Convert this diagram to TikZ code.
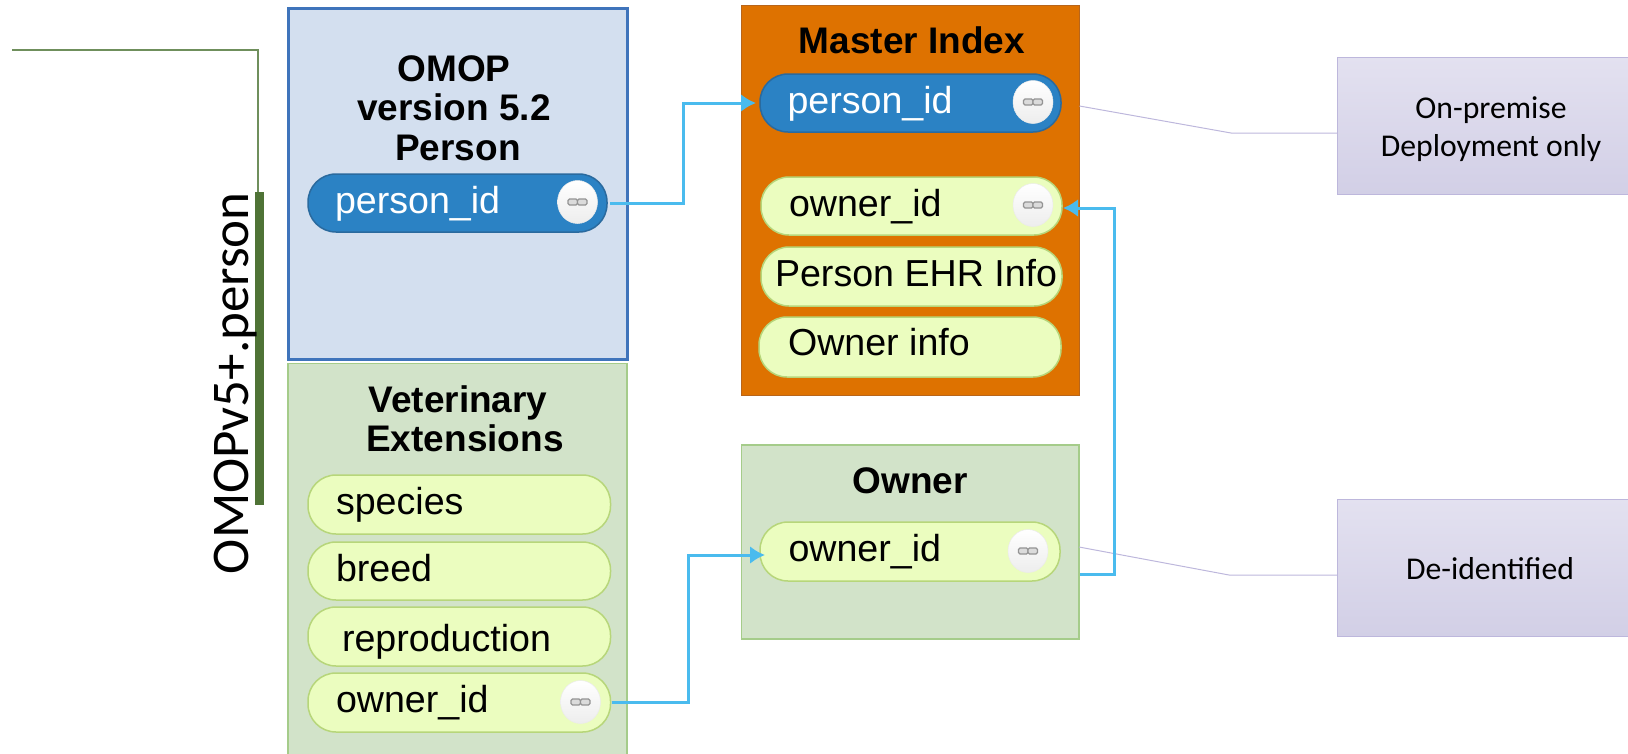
\documentclass[tikz,border=0pt]{standalone}
\usepackage{fontspec}
\setmainfont{Liberation Sans}
\newfontfamily\calfont{Carlito}
\usetikzlibrary{shapes.geometric,arrows.meta}
\definecolor{pillblue}{HTML}{2B82C4}
\definecolor{pillblueedge}{HTML}{2A6A9E}
\definecolor{pillgreen}{HTML}{EBFDBF}
\definecolor{pillgreenedge}{HTML}{B7D67A}
\definecolor{boxblue}{HTML}{D3DFEF}
\definecolor{boxblueedge}{HTML}{3F74BB}
\definecolor{boxgreen}{HTML}{D2E3C9}
\definecolor{boxgreenedge}{HTML}{A5CC8A}
\definecolor{boxorange}{HTML}{DE7200}
\definecolor{boxorangeedge}{HTML}{B8651A}
\definecolor{connblue}{HTML}{4ABBEE}
\definecolor{purpleedge}{HTML}{BDB7DC}
\definecolor{leafthin}{HTML}{6F8F5C}
\definecolor{leafthick}{HTML}{4F7336}
\definecolor{HTMLtop}{HTML}{E3E1F0}
\definecolor{HTMLbot}{HTML}{D2CFE6}
\tikzset{
  area/.style={rectangle,draw,outer sep=0pt,inner sep=0pt},
  bluearea/.style={area,fill=boxblue,draw=boxblueedge,line width=3pt},
  greenarea/.style={area,fill=boxgreen,draw=boxgreenedge,line width=1.5pt},
  orangearea/.style={area,fill=boxorange,draw=boxorangeedge,line width=1pt},
  notebox/.style={area,draw=purpleedge,line width=1pt,top color=HTMLtop,bottom color=HTMLbot},
  bluepill/.style={area,fill=pillblue,draw=pillblueedge,line width=1.5pt,rounded corners=28pt},
  greenpill/.style={area,fill=pillgreen,draw=pillgreenedge,line width=1.5pt,rounded corners=28pt},
  linkbtn/.style={ellipse,draw=black!8,line width=.5pt,top color=white,bottom color=black!7,minimum width=40pt,minimum height=43pt,inner sep=0pt,outer sep=0pt},
  linkglyph/.style={draw=black!42,fill=black!14,line width=1.2pt,rounded corners=1.5pt},
  title/.style={inner sep=0pt,outer sep=0pt,anchor=base,font=\fontsize{37}{40}\selectfont\bfseries},
  field/.style={inner sep=0pt,outer sep=0pt,anchor=base west,font=\fontsize{37.6}{40}\selectfont},
  note/.style={inner sep=0pt,outer sep=0pt,anchor=base,font=\calfont\fontsize{31.7}{34}\selectfont},
  conn/.style={draw=connblue,line width=3pt,-{Latex[length=15pt,width=18pt]}},
  lead/.style={draw=purpleedge,line width=1pt},
}
% name, x1, y1, x2, y2, style
\newcommand\placebox[6]{\node[#6,minimum width={(#4-#2)*1pt},minimum height={(#5-#3)*1pt}] (#1) at ({(#2+#4)/2},{(#3+#5)/2}) {};}
% name, cx, cy
\newcommand\linkbutton[3]{\node[linkbtn] (#1) at (#2,#3) {};
  \draw[linkglyph] ({#2-9.5},{#3-3}) rectangle ({#2},{#3+3});
  \draw[linkglyph] ({#2},{#3-3}) rectangle ({#2+9.5},{#3+3});}
\begin{document}
\begin{tikzpicture}[x=1pt,y=-1pt]
\useasboundingbox (0,0) rectangle (1628,753);
\clip (0,0) rectangle (1628,753);

% left bracket
\coordinate (legstart) at (12,50);
\coordinate (legcorner) at (258,50);
\node[area,fill=leafthick,draw=none,minimum width=9pt,minimum height=313pt] (legbar) at (259.5,348.5) {};
\draw[leafthin,line width=2pt] (legstart) -- (legcorner) -- (legcorner |- legbar.north);
\node[inner sep=0pt,outer sep=0pt,rotate=90,anchor=base west,font=\calfont\fontsize{53}{56}\selectfont] (legtext) at (248,574) {OMOPv5+.person};

% areas
\placebox{omopbox}{288}{8}{627}{359.5}{bluearea}
\placebox{vetbox}{288}{363.5}{627}{770}{greenarea}
\placebox{masterbox}{741.5}{5.5}{1079.5}{395.5}{orangearea}
\placebox{ownerbox}{741.5}{445}{1079}{639}{greenarea}
\placebox{premisebox}{1337}{57}{1640}{194}{notebox}
\placebox{deidbox}{1337}{499}{1640}{636}{notebox}

% titles
\node[title] (t1) at (454,81.7) {OMOP};
\node[title] (t2) at (454,120.7) {version 5.2};
\node[title] (t3) at (458,160) {Person};
\node[title] (t4) at (458,412) {Veterinary};
\node[title] (t5) at (465,451) {Extensions};
\node[title] (t6) at (912,53) {Master Index};
\node[title] (t7) at (910,493) {Owner};

% pills
\placebox{omoppid}{308}{174}{607}{232}{bluepill}
\placebox{species}{308}{475}{610.5}{534}{greenpill}
\placebox{breed}{308}{542}{610.5}{600}{greenpill}
\placebox{repro}{308}{607}{610.5}{666}{greenpill}
\placebox{vetowner}{308}{673}{610.5}{732}{greenpill}
\placebox{masterpid}{760}{74}{1061}{132}{bluepill}
\placebox{masterowner}{761}{177}{1062}{235}{greenpill}
\placebox{ehr}{761}{247}{1062}{306}{greenpill}
\placebox{ownerinfo}{759}{317}{1061}{377}{greenpill}
\placebox{ownerid}{760}{522}{1060}{581}{greenpill}

% field labels
\node[field,text=white] (l1) at (335,213) {person\_id};
\node[field] (l2) at (336,514.5) {species};
\node[field] (l3) at (336,581) {breed};
\node[field] (l4) at (342,651) {reproduction};
\node[field] (l5) at (336,712.5) {owner\_id};
\node[field,text=white] (l6) at (787.5,113) {person\_id};
\node[field] (l7) at (789,216) {owner\_id};
\node[field] (l8) at (775,286.5) {Person EHR Info};
\node[field] (l9) at (788,355.5) {Owner info};
\node[field] (l10) at (788.5,561.5) {owner\_id};

% link buttons
\linkbutton{b1}{577.5}{202}
\linkbutton{b2}{580.5}{702}
\linkbutton{b3}{1033}{102}
\linkbutton{b4}{1033}{205}
\linkbutton{b5}{1028}{551}

% notes
\node[note] (n1) at (1491,118.5) {On-premise};
\node[note] (n2) at (1491,156.5) {Deployment only};
\node[note] (n3) at (1490,579) {De-identified};

% leader lines
\draw[lead] ([yshift=94.5pt]masterbox.east) -- (1231,133) -- ([yshift=-7.5pt]premisebox.west);
\draw[lead] ([yshift=-5pt]ownerbox.east) -- (1229,575) -- ([yshift=-7.5pt]deidbox.west);

% connectors
\draw[conn] ([xshift=3pt]omoppid.east) -- (683,203) |- ([xshift=-4pt]masterpid.west);
\draw[conn] ([xshift=1pt]vetowner.east) -- (688,702.5) |- ([xshift=5pt,yshift=-3.5pt]ownerid.west);
\draw[conn] ([yshift=-32pt,xshift=1pt]ownerbox.east) -- (1114,574) |- ([xshift=1pt,yshift=-2pt]masterowner.east);
\end{tikzpicture}
\end{document}
